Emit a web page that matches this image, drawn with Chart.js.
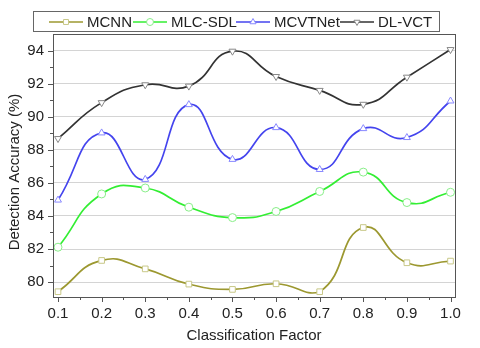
<!DOCTYPE html>
<html>
<head>
<meta charset="utf-8">
<script src="https://cdn.jsdelivr.net/npm/chart.js@4"></script>
<style>
  body { margin: 0; background: #fff; }
  #wrap { width: 480px; height: 348px; }
</style>
</head>
<body>
<div id="wrap"><canvas id="chart" width="480" height="348"></canvas></div>
<script>
const xValues = [0.1, 0.2, 0.3, 0.4, 0.5, 0.6, 0.7, 0.8, 0.9, 1.0];
const mcnn    = [79.42, 81.31, 80.80, 79.88, 79.56, 79.90, 79.42, 83.30, 81.17, 81.27];
const mlcSdl  = [82.11, 85.33, 85.69, 84.53, 83.90, 84.27, 85.48, 86.65, 84.81, 85.43];
const mcvtNet = [84.96, 89.02, 86.21, 90.73, 87.42, 89.34, 86.81, 89.28, 88.74, 90.95];
const dlVct   = [88.68, 90.85, 91.93, 91.85, 93.96, 92.43, 91.59, 90.75, 92.39, 94.06];
const yTicks  = [80, 81, 82, 83, 84, 85, 86, 87, 88, 89, 90, 91, 92, 93, 94];
const xMinor  = [0.15, 0.25, 0.35, 0.45, 0.55, 0.65, 0.75, 0.85, 0.95];

const FONT = '"Liberation Sans", Arial, sans-serif';
const LEGEND_X = [49, 133, 236, 340];
const toPoints = arr => xValues.map((x, i) => ({ x, y: arr[i] }));

function series(label, data, color, markerColor, style, rotation) {
  return {
    label, data: toPoints(data),
    borderColor: color, borderWidth: 1.7,
    tension: 0.5,
    pointStyle: style, rotation: rotation || 0,
    pointRadius: 4, pointHoverRadius: 4,
    pointBackgroundColor: '#fff', pointBorderColor: markerColor, pointBorderWidth: 1
  };
}

// frame, tick marks, y title and boxed legend
const decorations = {
  id: 'decorations',
  afterDraw(chart) {
    const { ctx, chartArea: a, scales } = chart;
    ctx.save();
    ctx.strokeStyle = '#555';
    ctx.lineWidth = 1;
    ctx.strokeRect(a.left + 0.5, a.top + 0.5, a.right - a.left, a.bottom - a.top);

    ctx.beginPath();
    yTicks.forEach(v => {
      const y = Math.round(scales.y.getPixelForValue(v)) + 0.5;
      const len = v % 2 === 0 ? 5 : 3;
      ctx.moveTo(a.left - len, y); ctx.lineTo(a.left, y);
    });
    xValues.forEach(v => {
      const x = Math.round(scales.x.getPixelForValue(v)) + 0.5;
      ctx.moveTo(x, a.bottom); ctx.lineTo(x, a.bottom + 5);
    });
    xMinor.forEach(v => {
      const x = Math.round(scales.x.getPixelForValue(v)) + 0.5;
      ctx.moveTo(x, a.bottom); ctx.lineTo(x, a.bottom + 3);
    });
    ctx.stroke();

    // y axis title
    ctx.fillStyle = '#222';
    ctx.font = '15px ' + FONT;
    ctx.textAlign = 'center';
    ctx.textBaseline = 'middle';
    ctx.save();
    ctx.translate(15, 172);
    ctx.rotate(-Math.PI / 2);
    ctx.fillText('Detection Accuracy (%)', 0, 0);
    ctx.restore();

    // legend
    ctx.textAlign = 'left';
    ctx.font = '15px ' + FONT;
    ctx.strokeStyle = '#666';
    ctx.strokeRect(33.5, 11.5, 406, 20);
    const cy = 22;
    chart.data.datasets.forEach((ds, i) => {
      const x = LEGEND_X[i];
      ctx.strokeStyle = ds.borderColor;
      ctx.lineWidth = 1.7;
      ctx.beginPath(); ctx.moveTo(x, cy); ctx.lineTo(x + 34, cy); ctx.stroke();
      ctx.fillStyle = '#fff';
      ctx.strokeStyle = ds.pointBorderColor;
      ctx.lineWidth = 1;
      Chart.helpers.drawPoint(ctx, { pointStyle: ds.pointStyle, rotation: ds.rotation, radius: 3.5, borderWidth: 1 }, x + 17, cy);
      ctx.fillStyle = '#222';
      ctx.fillText(ds.label, x + 38, cy + 1);
    });
    ctx.restore();
  }
};

new Chart(document.getElementById('chart'), {
  type: 'line',
  data: {
    datasets: [
      series('MCNN', mcnn, '#9c9830', '#c8c888', 'rect'),
      series('MLC-SDL', mlcSdl, '#33ee33', '#88ee88', 'circle'),
      series('MCVTNet', mcvtNet, '#4444ee', '#8888ff', 'triangle'),
      series('DL-VCT', dlVct, '#333333', '#888888', 'triangle', 180)
    ]
  },
  options: {
    responsive: false,
    animation: false,
    layout: { padding: { top: 34, right: 25, left: 0, bottom: 0 } },
    plugins: { legend: { display: false }, tooltip: { enabled: false } },
    scales: {
      x: {
        type: 'linear', min: 0.0885, max: 1.0103,
        afterBuildTicks: s => { s.ticks = xValues.map(v => ({ value: v })); },
        afterFit: s => { s.height = 51; },
        grid: { display: false, drawTicks: false },
        border: { display: false },
        ticks: { color: '#222', padding: 8, font: { family: FONT, size: 15 }, callback: v => v.toFixed(1), maxRotation: 0 },
        title: { display: true, text: 'Classification Factor', color: '#222', font: { family: FONT, size: 15 }, padding: { top: 0, bottom: 3 } }
      },
      y: {
        min: 79.1, max: 95,
        afterBuildTicks: s => { s.ticks = yTicks.map(v => ({ value: v })); },
        afterFit: s => { s.width = 53; },
        grid: {
          drawTicks: false,
          color: c => (c.tick && c.tick.value % 2 === 0) ? '#d4d4d4' : '#ececec',
          lineWidth: 1
        },
        border: { display: false },
        ticks: { color: '#222', padding: 9, font: { family: FONT, size: 15 }, callback: v => v % 2 === 0 ? v : '' }
      }
    }
  },
  plugins: [decorations]
});
</script>
</body>
</html>
